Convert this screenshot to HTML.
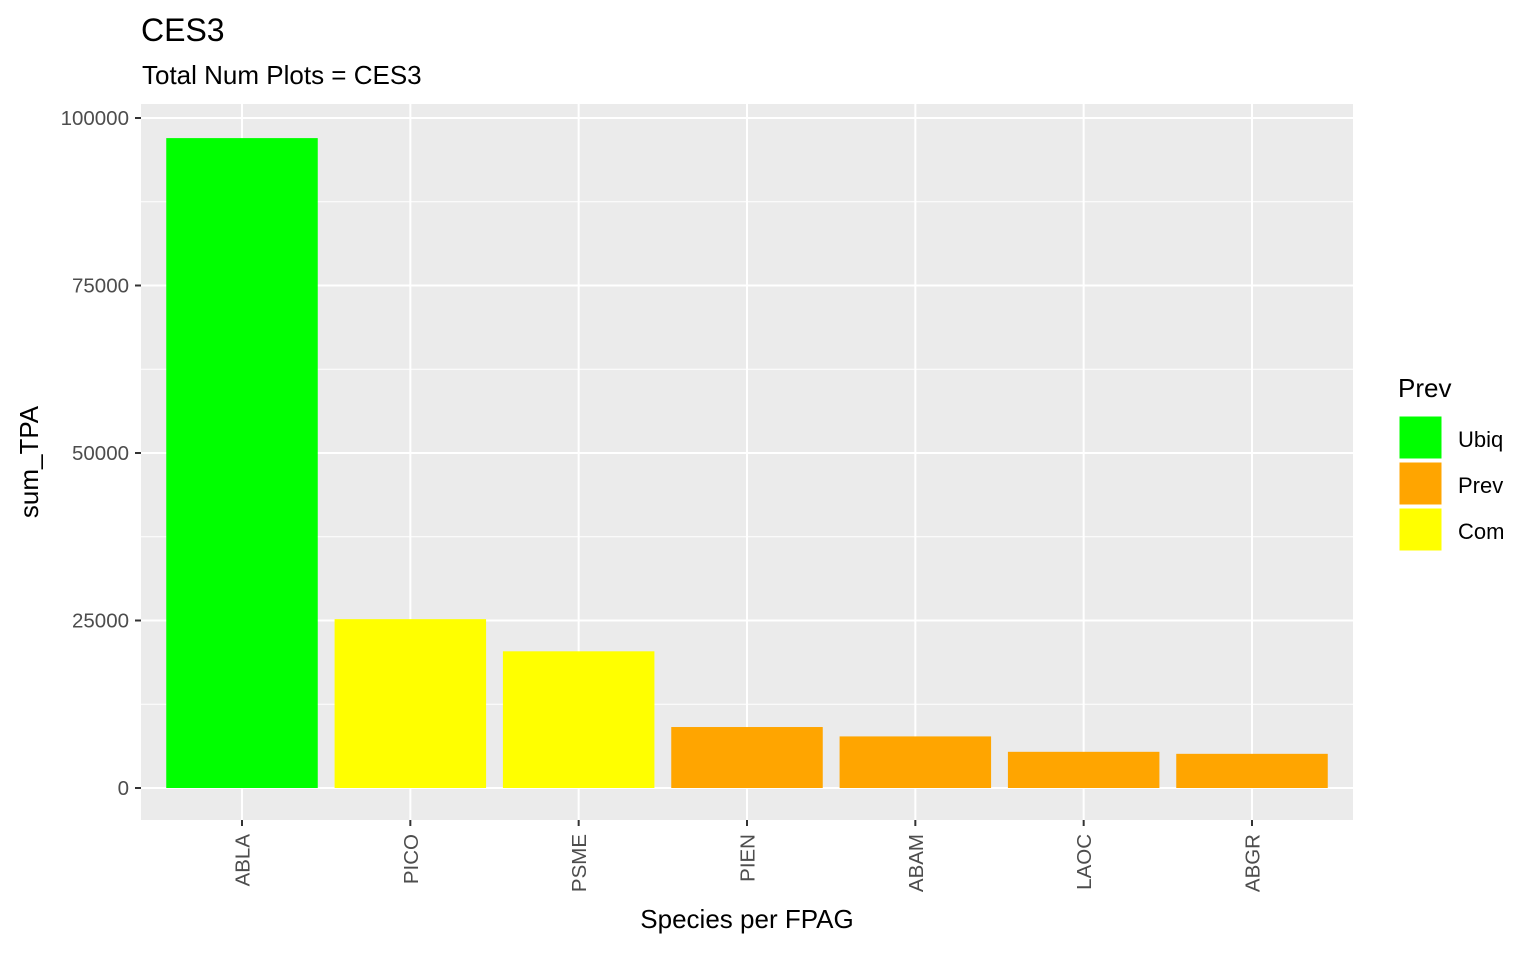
<!DOCTYPE html>
<html><head><meta charset="utf-8"><style>
body{margin:0;background:#fff;}
svg text{font-family:"Liberation Sans",Arial,sans-serif;}
</style></head><body>
<svg id="chart" width="1536" height="949" xmlns="http://www.w3.org/2000/svg">
<text x="141" y="41" font-size="32" fill="#000">CES3</text>
<text x="142" y="84" font-size="26" fill="#000">Total Num Plots = CES3</text>
<rect x="141" y="104" width="1212" height="716" fill="#ebebeb"/>
<g id="grid"></g>
<g id="bars"></g>
<g id="axes"></g>
<text transform="translate(38,462) rotate(-90)" text-anchor="middle" font-size="26" fill="#000">sum_TPA</text>
<text x="747" y="928" text-anchor="middle" font-size="26" fill="#000">Species per FPAG</text>
<g>
<text x="1398" y="397" font-size="26" fill="#000">Prev</text>
<g id="legend"></g>
</g>
</svg>
<script>
const categories=["ABLA","PICO","PSME","PIEN","ABAM","LAOC","ABGR"];
const values=[97000,25200,20400,9100,7700,5400,5100];
const groups=["Ubiq","Com","Com","Prev","Prev","Prev","Prev"];
const yTicks=[0,25000,50000,75000,100000];
const legendLabels=["Ubiq","Prev","Com"];
const colorMap={Ubiq:"#00ff00",Prev:"#ffa500",Com:"#ffff00"};
const NS="http://www.w3.org/2000/svg";
const x0=141,x1=1353,y0=788,yTop=118;
const y=v=>y0-(v/100000)*(y0-yTop);
const step=(x1-x0)/(categories.length+0.2);
const xc=i=>x0+step*(0.6+i);
const bw=step*0.9;
function mk(tag,attrs,parent){const e=document.createElementNS(NS,tag);for(const k in attrs)e.setAttribute(k,attrs[k]);parent.appendChild(e);return e;}
const grid=document.getElementById('grid'),bars=document.getElementById('bars'),axes=document.getElementById('axes'),leg=document.getElementById('legend');
for(let i=0;i<yTicks.length-1;i++){const m=(yTicks[i]+yTicks[i+1])/2;const l=mk('line',{x1:x0,x2:x1,y1:y(m),y2:y(m),stroke:'#fff','stroke-width':1},grid);

}
yTicks.forEach(t=>{const l=mk('line',{x1:x0,x2:x1,y1:y(t),y2:y(t),stroke:'#fff','stroke-width':2},grid);


const tk=mk('line',{x1:x0-6,x2:x0,y1:y(t),y2:y(t),stroke:'#333','stroke-width':2},axes);


const tx=mk('text',{x:x0-12,y:y(t)+7,'text-anchor':'end','font-size':20.5,fill:'#4d4d4d'},axes);tx.textContent=t;

});
categories.forEach((c,i)=>{const cx=xc(i);
const g=mk('line',{x1:cx,x2:cx,y1:104,y2:820,stroke:'#fff','stroke-width':2},grid);


const r=mk('rect',{x:cx-bw/2,y:y(values[i]),width:bw,height:y0-y(values[i]),fill:colorMap[groups[i]]},bars);


const tk=mk('line',{x1:cx,x2:cx,y1:820,y2:826,stroke:'#333','stroke-width':2},axes);


const tx=mk('text',{transform:`translate(${cx+7.5},834) rotate(-90)`,'text-anchor':'end','font-size':20.5,fill:'#4d4d4d'},axes);tx.textContent=c;

});
legendLabels.forEach((lb,i)=>{const yy=416+i*46;
const r=mk('rect',{x:1399,y:yy,width:43,height:43,fill:colorMap[lb],stroke:'#fff','stroke-width':1},leg);


const t=mk('text',{x:1458,y:yy+31,'font-size':22,fill:'#000'},leg);t.textContent=lb;

});
</script>
</body></html>
